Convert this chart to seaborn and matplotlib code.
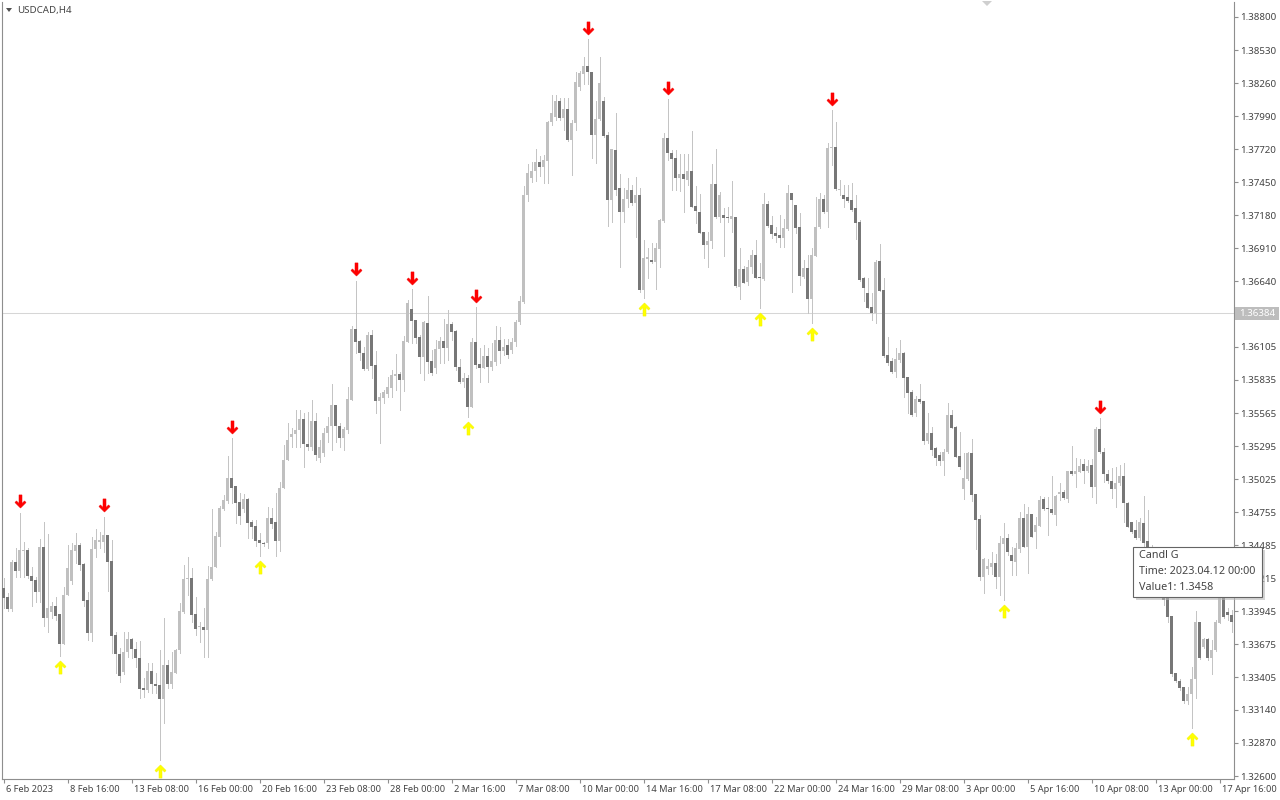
import numpy as np
import pandas as pd
import matplotlib
matplotlib.use("Agg")
import matplotlib.pyplot as plt
import matplotlib.transforms as mtransforms
from matplotlib.path import Path
from matplotlib.patches import Rectangle, Polygon
import seaborn as sns

# ---------------- data (USDCAD H4, 6 Feb 2023 .. 17 Apr 2023) ----------------
open_ = [
    1.34136, 1.34062, 1.33964, 1.34348, 1.34274, 1.34438, 1.34446, 1.34234, 1.34201, 1.34103,
    1.34471, 1.33891, 1.33940, 1.33989, 1.33924, 1.33679, 1.34078, 1.34193, 1.34438, 1.34487,
    1.34332, 1.34038, 1.33768, 1.34455, 1.34512, 1.34512, 1.34569, 1.34356, 1.33752, 1.33596,
    1.33449, 1.33613, 1.33719, 1.33638, 1.33564, 1.33319, 1.33302, 1.33457, 1.33351, 1.33343,
    1.33229, 1.33506, 1.33351, 1.33441, 1.33629, 1.33940, 1.34209, 1.34217, 1.33924, 1.33817,
    1.33817, 1.33793, 1.34209, 1.34307, 1.34553, 1.34781, 1.34847, 1.35034, 1.34969, 1.34838,
    1.34781, 1.34863, 1.34675, 1.34643, 1.34528, 1.34504, 1.34504, 1.34708, 1.34675, 1.34520,
    1.34953, 1.35181, 1.35369, 1.35393, 1.35426, 1.35516, 1.35312, 1.35287, 1.35499, 1.35198,
    1.35238, 1.35401, 1.35459, 1.35630, 1.35459, 1.35361, 1.35426, 1.35671, 1.36251, 1.36153,
    1.36055, 1.35925, 1.36202, 1.35957, 1.35663, 1.35688, 1.35721, 1.35770, 1.35868, 1.35884,
    1.35835, 1.36145, 1.36414, 1.36325, 1.36186, 1.36023, 1.36300, 1.35990, 1.35933, 1.36088,
    1.36153, 1.36096, 1.36292, 1.36235, 1.35941, 1.35819, 1.35851, 1.35614, 1.36145, 1.35966,
    1.35933, 1.36031, 1.35941, 1.35982, 1.36161, 1.36072, 1.36120, 1.36080, 1.36145, 1.36308,
    1.36472, 1.37346, 1.37485, 1.37542, 1.37616, 1.37575, 1.37624, 1.37942, 1.37983, 1.38114,
    1.37975, 1.38048, 1.37795, 1.37934, 1.38228, 1.38334, 1.38399, 1.38350, 1.37836, 1.37967,
    1.38114, 1.37836, 1.37305, 1.37714, 1.37404, 1.37207, 1.37314, 1.37387, 1.37280, 1.37346,
    1.36570, 1.36823, 1.36815, 1.36799, 1.36905, 1.37134, 1.37812, 1.37689, 1.37648, 1.37485,
    1.37518, 1.37469, 1.37542, 1.37256, 1.37207, 1.37044, 1.36938, 1.36970, 1.37436, 1.37166,
    1.37182, 1.37166, 1.37150, 1.37166, 1.36595, 1.36742, 1.36636, 1.36758, 1.36856, 1.36676,
    1.36660, 1.37272, 1.37101, 1.37035, 1.37019, 1.36995, 1.37068, 1.37363, 1.37264, 1.37084,
    1.36676, 1.36750, 1.36497, 1.36848, 1.37084, 1.37314, 1.37207, 1.37728, 1.37738, 1.37387,
    1.37346, 1.37330, 1.37305, 1.37240, 1.37125, 1.36668, 1.36546, 1.36431, 1.36382, 1.36807,
    1.36570, 1.36039, 1.35990, 1.35900, 1.35998, 1.36055, 1.35859, 1.35737, 1.35565, 1.35680,
    1.35663, 1.35336, 1.35401, 1.35279, 1.35222, 1.35173, 1.35247, 1.35548, 1.35450, 1.35214,
    1.34944, 1.35026, 1.35238, 1.34904, 1.34700, 1.34225, 1.34291, 1.34307, 1.34340, 1.34225,
    1.34496, 1.34545, 1.34405, 1.34348, 1.34455, 1.34708, 1.34471, 1.34741, 1.34594, 1.34643,
    1.34863, 1.34790, 1.34781, 1.34732, 1.34904, 1.34920, 1.34863, 1.35091, 1.35067, 1.35083,
    1.35148, 1.35091, 1.35140, 1.34961, 1.35434, 1.35247, 1.35067, 1.35010, 1.34944, 1.34994,
    1.35051, 1.34830, 1.34675, 1.34610, 1.34545, 1.34667, 1.34520, 1.34463, 1.34364, 1.34405,
    1.34160, 1.34062, 1.33907, 1.33441, 1.33376, 1.33327, 1.33213, 1.33270, 1.33392, 1.33858,
    1.33654, 1.33719, 1.33564, 1.33629, 1.33850, 1.34054, 1.33940, 1.33915,
]
high = [
    1.34217, 1.34095, 1.34364, 1.34463, 1.34749, 1.34512, 1.34463, 1.34307, 1.34225, 1.34536,
    1.34675, 1.34577, 1.34022, 1.34062, 1.33924, 1.34144, 1.34487, 1.34504, 1.34585, 1.34504,
    1.34340, 1.34103, 1.34553, 1.34618, 1.34594, 1.34716, 1.34569, 1.34528, 1.33777, 1.33646,
    1.33777, 1.33777, 1.33728, 1.33695, 1.33703, 1.33400, 1.33523, 1.33523, 1.33441, 1.33629,
    1.33891, 1.33547, 1.33613, 1.33638, 1.34013, 1.34323, 1.34389, 1.34299, 1.34062, 1.33858,
    1.33973, 1.34315, 1.34781, 1.34594, 1.34806, 1.34895, 1.35214, 1.35361, 1.34969, 1.34912,
    1.34904, 1.34871, 1.34692, 1.34692, 1.34585, 1.34512, 1.34798, 1.34790, 1.34912, 1.35002,
    1.35303, 1.35483, 1.35442, 1.35589, 1.35589, 1.35565, 1.35573, 1.35671, 1.35565, 1.35344,
    1.35442, 1.35532, 1.35802, 1.35630, 1.35483, 1.35450, 1.35778, 1.36276, 1.36644, 1.36161,
    1.36104, 1.36227, 1.36243, 1.36072, 1.35729, 1.35753, 1.35859, 1.35917, 1.36047, 1.35900,
    1.36194, 1.36488, 1.36578, 1.36325, 1.36202, 1.36316, 1.36521, 1.36080, 1.36161, 1.36186,
    1.36333, 1.36406, 1.36308, 1.36243, 1.36006, 1.35892, 1.35876, 1.36178, 1.36431, 1.36096,
    1.36120, 1.36096, 1.36137, 1.36276, 1.36267, 1.36169, 1.36169, 1.36178, 1.36325, 1.36521,
    1.37420, 1.37600, 1.37616, 1.37722, 1.37665, 1.37673, 1.37950, 1.38162, 1.38162, 1.38138,
    1.38138, 1.38138, 1.37959, 1.38350, 1.38358, 1.38473, 1.38620, 1.38350, 1.38114, 1.38473,
    1.38146, 1.37861, 1.37722, 1.38016, 1.37518, 1.37404, 1.37485, 1.37428, 1.37493, 1.37404,
    1.36978, 1.36913, 1.36954, 1.36954, 1.37150, 1.37852, 1.38130, 1.37714, 1.37714, 1.37681,
    1.37681, 1.37681, 1.37869, 1.37420, 1.37355, 1.37044, 1.37044, 1.37600, 1.37722, 1.37371,
    1.37240, 1.37248, 1.37461, 1.37166, 1.36913, 1.36766, 1.36815, 1.36897, 1.36978, 1.36791,
    1.37363, 1.37297, 1.37174, 1.37084, 1.37182, 1.37150, 1.37428, 1.37363, 1.37264, 1.37199,
    1.36815, 1.36856, 1.36913, 1.37330, 1.37363, 1.37346, 1.37771, 1.38040, 1.37942, 1.37469,
    1.37428, 1.37428, 1.37444, 1.37346, 1.37142, 1.36676, 1.36668, 1.36546, 1.36815, 1.36946,
    1.36668, 1.36186, 1.36015, 1.36096, 1.36161, 1.36063, 1.35859, 1.35753, 1.35704, 1.35802,
    1.35663, 1.35565, 1.35450, 1.35287, 1.35247, 1.35271, 1.35646, 1.35589, 1.35459, 1.35410,
    1.35238, 1.35247, 1.35352, 1.34904, 1.34732, 1.34381, 1.34372, 1.34430, 1.34413, 1.34561,
    1.34667, 1.34577, 1.34471, 1.34504, 1.34757, 1.34822, 1.34798, 1.34741, 1.34716, 1.34888,
    1.34880, 1.34880, 1.35051, 1.34896, 1.34994, 1.34936, 1.35091, 1.35295, 1.35198, 1.35189,
    1.35189, 1.35181, 1.35189, 1.35450, 1.35524, 1.35279, 1.35099, 1.35116, 1.35124, 1.35140,
    1.35157, 1.34838, 1.34675, 1.34692, 1.34708, 1.34888, 1.34773, 1.34487, 1.34446, 1.34430,
    1.34201, 1.34062, 1.33907, 1.33441, 1.33392, 1.33327, 1.33327, 1.33490, 1.33948, 1.33858,
    1.33728, 1.33728, 1.33711, 1.33875, 1.34062, 1.34062, 1.33973, 1.33956,
]
low = [
    1.33973, 1.33948, 1.33948, 1.34225, 1.34225, 1.34225, 1.34217, 1.33989, 1.34022, 1.34022,
    1.33826, 1.33777, 1.33891, 1.33875, 1.33580, 1.33679, 1.34078, 1.34168, 1.34340, 1.34283,
    1.33989, 1.33711, 1.33703, 1.34389, 1.34463, 1.34430, 1.34111, 1.33604, 1.33441, 1.33368,
    1.33433, 1.33572, 1.33564, 1.33490, 1.33237, 1.33245, 1.33286, 1.33278, 1.33278, 1.32730,
    1.33033, 1.33319, 1.33319, 1.33441, 1.33604, 1.33932, 1.34078, 1.33858, 1.33752, 1.33695,
    1.33572, 1.33572, 1.34201, 1.34307, 1.34479, 1.34773, 1.34830, 1.34830, 1.34667, 1.34659,
    1.34757, 1.34545, 1.34545, 1.34479, 1.34397, 1.34479, 1.34463, 1.34626, 1.34397, 1.34438,
    1.34953, 1.35181, 1.35287, 1.35287, 1.35287, 1.35124, 1.35263, 1.35263, 1.35181, 1.35165,
    1.35214, 1.35328, 1.35263, 1.35328, 1.35287, 1.35263, 1.35401, 1.35671, 1.36055, 1.35998,
    1.35917, 1.35917, 1.35851, 1.35565, 1.35320, 1.35646, 1.35696, 1.35696, 1.35753, 1.35589,
    1.35745, 1.36145, 1.36137, 1.36137, 1.35892, 1.35835, 1.35892, 1.35876, 1.35892, 1.35974,
    1.35974, 1.35998, 1.36161, 1.35917, 1.35810, 1.35778, 1.35532, 1.35614, 1.35933, 1.35819,
    1.35933, 1.35819, 1.35917, 1.35957, 1.35974, 1.36039, 1.36015, 1.36055, 1.36112, 1.36292,
    1.36463, 1.37297, 1.37453, 1.37461, 1.37502, 1.37444, 1.37444, 1.37918, 1.37959, 1.37959,
    1.37877, 1.37787, 1.37510, 1.37877, 1.38203, 1.38252, 1.38252, 1.37649, 1.37608, 1.37959,
    1.37820, 1.37093, 1.37125, 1.37346, 1.36758, 1.37125, 1.37248, 1.37264, 1.37003, 1.36554,
    1.36505, 1.36668, 1.36791, 1.36578, 1.36758, 1.37125, 1.37632, 1.37387, 1.37387, 1.37379,
    1.37207, 1.37428, 1.37248, 1.37117, 1.37035, 1.36832, 1.36758, 1.36913, 1.37158, 1.37125,
    1.36848, 1.37125, 1.37044, 1.36595, 1.36497, 1.36627, 1.36611, 1.36709, 1.36668, 1.36423,
    1.36652, 1.37084, 1.36995, 1.36962, 1.36921, 1.36921, 1.37060, 1.36554, 1.37035, 1.36611,
    1.36668, 1.36382, 1.36300, 1.36848, 1.37076, 1.37199, 1.37084, 1.37591, 1.37387, 1.37346,
    1.37248, 1.37289, 1.37215, 1.36986, 1.36644, 1.36480, 1.36423, 1.36325, 1.36300, 1.36562,
    1.36023, 1.35957, 1.35892, 1.35859, 1.35982, 1.35696, 1.35565, 1.35540, 1.35540, 1.35646,
    1.35312, 1.35320, 1.35222, 1.35140, 1.35140, 1.35059, 1.35238, 1.35442, 1.35206, 1.35108,
    1.34863, 1.35018, 1.34847, 1.34455, 1.34201, 1.34095, 1.34250, 1.34250, 1.34136, 1.34078,
    1.34038, 1.34405, 1.34242, 1.34242, 1.34430, 1.34471, 1.34258, 1.34553, 1.34463, 1.34643,
    1.34773, 1.34569, 1.34741, 1.34651, 1.34855, 1.34863, 1.34839, 1.35059, 1.34961, 1.35083,
    1.34994, 1.35083, 1.34879, 1.34830, 1.35238, 1.35002, 1.34994, 1.34871, 1.34798, 1.34977,
    1.34675, 1.34634, 1.34585, 1.34536, 1.34528, 1.34463, 1.34446, 1.34323, 1.34283, 1.34119,
    1.33997, 1.33858, 1.33417, 1.33368, 1.33302, 1.33196, 1.33188, 1.32992, 1.33237, 1.33555,
    1.33646, 1.33547, 1.33433, 1.33621, 1.33850, 1.33891, 1.33875, 1.33777,
]
close = [
    1.34054, 1.33964, 1.34348, 1.34274, 1.34446, 1.34446, 1.34234, 1.34193, 1.34103, 1.34471,
    1.33891, 1.33973, 1.33989, 1.33907, 1.33679, 1.34078, 1.34299, 1.34446, 1.34487, 1.34323,
    1.34030, 1.33768, 1.34455, 1.34528, 1.34528, 1.34569, 1.34348, 1.33744, 1.33596, 1.33417,
    1.33613, 1.33719, 1.33638, 1.33564, 1.33310, 1.33302, 1.33457, 1.33351, 1.33335, 1.33229,
    1.33506, 1.33351, 1.33449, 1.33629, 1.33948, 1.34209, 1.34217, 1.33915, 1.33801, 1.33822,
    1.33793, 1.34209, 1.34307, 1.34561, 1.34790, 1.34855, 1.35034, 1.34953, 1.34830, 1.34724,
    1.34863, 1.34667, 1.34634, 1.34520, 1.34504, 1.34496, 1.34708, 1.34659, 1.34520, 1.34953,
    1.35181, 1.35344, 1.35393, 1.35426, 1.35516, 1.35312, 1.35287, 1.35499, 1.35222, 1.35287,
    1.35401, 1.35459, 1.35630, 1.35459, 1.35361, 1.35434, 1.35680, 1.36251, 1.36145, 1.36055,
    1.35925, 1.36202, 1.35949, 1.35663, 1.35696, 1.35737, 1.35778, 1.35876, 1.35884, 1.35835,
    1.36153, 1.36463, 1.36316, 1.36178, 1.36023, 1.36308, 1.35982, 1.35892, 1.36088, 1.36153,
    1.36096, 1.36292, 1.36227, 1.35941, 1.35819, 1.35851, 1.35614, 1.36145, 1.35957, 1.35933,
    1.36031, 1.35941, 1.35990, 1.36161, 1.36072, 1.36104, 1.36039, 1.36145, 1.36308, 1.36480,
    1.37346, 1.37526, 1.37542, 1.37616, 1.37575, 1.37632, 1.37942, 1.38016, 1.38114, 1.37975,
    1.38048, 1.37795, 1.37934, 1.38269, 1.38342, 1.38399, 1.38350, 1.37836, 1.37967, 1.38261,
    1.37828, 1.37305, 1.37722, 1.37387, 1.37207, 1.37314, 1.37387, 1.37280, 1.37346, 1.36570,
    1.36832, 1.36840, 1.36799, 1.36913, 1.37142, 1.37812, 1.37689, 1.37640, 1.37485, 1.37518,
    1.37477, 1.37542, 1.37248, 1.37215, 1.37035, 1.36938, 1.36970, 1.37436, 1.37166, 1.37346,
    1.37158, 1.37158, 1.37174, 1.36603, 1.36742, 1.36627, 1.36758, 1.36856, 1.36668, 1.36668,
    1.37272, 1.37093, 1.37027, 1.37011, 1.36995, 1.37076, 1.37363, 1.37305, 1.37076, 1.36685,
    1.36750, 1.36497, 1.36856, 1.37084, 1.37314, 1.37207, 1.37730, 1.37741, 1.37395, 1.37395,
    1.37314, 1.37297, 1.37223, 1.37117, 1.36652, 1.36586, 1.36423, 1.36382, 1.36799, 1.36562,
    1.36031, 1.35974, 1.35900, 1.36006, 1.36055, 1.35851, 1.35729, 1.35548, 1.35680, 1.35655,
    1.35336, 1.35401, 1.35263, 1.35198, 1.35173, 1.35247, 1.35548, 1.35442, 1.35206, 1.35124,
    1.35034, 1.35238, 1.34895, 1.34692, 1.34225, 1.34372, 1.34315, 1.34340, 1.34225, 1.34504,
    1.34545, 1.34430, 1.34356, 1.34463, 1.34708, 1.34471, 1.34741, 1.34553, 1.34651, 1.34855,
    1.34781, 1.34781, 1.34749, 1.34888, 1.34920, 1.34871, 1.35091, 1.35067, 1.35091, 1.35132,
    1.35091, 1.35132, 1.34961, 1.35434, 1.35247, 1.35067, 1.35010, 1.34944, 1.34994, 1.35051,
    1.34830, 1.34634, 1.34594, 1.34545, 1.34675, 1.34504, 1.34463, 1.34364, 1.34405, 1.34160,
    1.34038, 1.33899, 1.33433, 1.33376, 1.33319, 1.33213, 1.33270, 1.33392, 1.33858, 1.33564,
    1.33719, 1.33564, 1.33629, 1.33858, 1.34054, 1.33899, 1.33915, 1.33858,
]

sell_signal_bars = [4, 25, 57, 88, 102, 118, 146, 166, 207, 274]
buy_signal_bars = [14, 39, 64, 116, 160, 189, 202, 250, 297]

price_ticks = [1.38800, 1.38530, 1.38260, 1.37990, 1.37720, 1.37450, 1.37180, 1.36910,
               1.36640, 1.36105, 1.35835, 1.35565, 1.35295, 1.35025, 1.34755, 1.34485,
               1.34215, 1.33945, 1.33675, 1.33405, 1.33140, 1.32870, 1.32600]
date_tick_labels = ["6 Feb 2023", "8 Feb 16:00", "13 Feb 08:00", "16 Feb 00:00",
                    "20 Feb 16:00", "23 Feb 08:00", "28 Feb 00:00", "2 Mar 16:00",
                    "7 Mar 08:00", "10 Mar 00:00", "14 Mar 16:00", "17 Mar 08:00",
                    "22 Mar 00:00", "24 Mar 16:00", "29 Mar 08:00", "3 Apr 00:00",
                    "5 Apr 16:00", "10 Apr 08:00", "13 Apr 00:00", "17 Apr 16:00"]
current_price = 1.36384
symbol_title = "USDCAD,H4"
tooltip_lines = ["Candl G", "Time: 2023.04.12 00:00", "Value1: 1.3458"]

# ---------------- styling ----------------
BULL = "#c0c0c0"
BEAR = "#777777"
WICK = "#c4c4c4"
AXIS = "#8e8e8e"
TEXT = "#444444"

df = pd.DataFrame({"open": open_, "high": high, "low": low, "close": close})
df["bar"] = np.arange(len(df))
df["bull"] = df["close"] >= df["open"]
df["body_low"] = df[["open", "close"]].min(axis=1)
df["body_h"] = (df["close"] - df["open"]).abs()

sns.set_theme(style="white")
plt.rcParams["font.family"] = ["Noto Sans", "DejaVu Sans"]

W, H = 1280, 800
fig = plt.figure(figsize=(W / 100, H / 100), dpi=100, facecolor="white")
ax_l, ax_r, ax_t, ax_b = 2, 1234, 2, 779
ax = fig.add_axes([ax_l / W, 1 - ax_b / H, (ax_r - ax_l) / W, (ax_b - ax_t) / H])
ax.set_facecolor("white")

px_per_price = 12242.0
ymax = 1.38800 + (17 - ax_t) / px_per_price
ymin = 1.38800 - (ax_b - 17) / px_per_price
ax.set_ylim(ymin, ymax)
ax.set_xlim(-0.375, len(df) - 0.375)

# current price line
ax.axhline(current_price, color="#d6d6d6", lw=0.75, zorder=1)

# wicks & bodies
ax.vlines(df["bar"], df["low"], df["high"], colors=WICK, linewidth=0.5,
          antialiased=False, zorder=2)
min_h = 1.0 / px_per_price
ax.bar(df["bar"], np.maximum(df["body_h"], min_h), bottom=df["body_low"], width=0.75,
       color=np.where(df["bull"], BULL, BEAR), linewidth=0, antialiased=False, zorder=3)

# signal arrows
dv = [(0, -6.5), (5.5, -1.0), (4.0, 0.6), (1.5, -1.9), (1.5, 6.5), (-1.5, 6.5),
      (-1.5, -1.9), (-4.0, 0.6), (-5.5, -1.0), (0, -6.5)]
codes = [Path.MOVETO] + [Path.LINETO] * 8 + [Path.CLOSEPOLY]
down_arrow = Path(dv, codes)
up_arrow = Path([(x, -y) for x, y in dv], codes)

sell = df.loc[sell_signal_bars]
buy = df.loc[buy_signal_bars]
sns.scatterplot(x=sell["bar"].values, y=(sell["high"] + 11.5 / px_per_price).values,
                marker=down_arrow, s=90, color="#ff0000", edgecolor="#f00000",
                linewidth=0.3, ax=ax, zorder=6, legend=False)
sns.scatterplot(x=buy["bar"].values, y=(buy["low"] - 11.0 / px_per_price).values,
                marker=up_arrow, s=90, color="#ffff00", edgecolor="#f0f000",
                linewidth=0.3, ax=ax, zorder=6, legend=False)

# axes / ticks
for side in ["left", "right", "bottom"]:
    ax.spines[side].set_visible(True)
    ax.spines[side].set_color(AXIS)
    ax.spines[side].set_linewidth(0.8)
ax.spines["top"].set_visible(False)

ax.yaxis.tick_right()
ax.set_yticks(price_ticks)
ax.set_yticklabels([f"{p:.5f}" for p in price_ticks])
ax.tick_params(axis="y", which="both", right=True, left=False, length=3, width=0.8,
               color=AXIS, pad=1.5, labelsize=7, labelcolor=TEXT)

ax.set_xticks(df["bar"].values[::16][:len(date_tick_labels)])
ax.set_xticklabels(date_tick_labels, ha="left")
ax.tick_params(axis="x", which="both", bottom=True, length=3, width=0.8, color=AXIS,
               pad=1.5, labelsize=6.7, labelcolor=TEXT)
shift = mtransforms.ScaledTranslation(2 / 100, 0, fig.dpi_scale_trans)
for lab in ax.get_xticklabels():
    lab.set_transform(lab.get_transform() + shift)
ax.grid(False)


def fx(px):
    return px / W


def fy(py):
    return 1 - py / H


# current price label on the price scale
fig.patches.append(Rectangle((fx(1235), fy(319.5)), fx(44), 12.5 / H,
                             transform=fig.transFigure, facecolor="#bdbdbd",
                             edgecolor="none", zorder=5))
fig.text(fx(1239), fy(313.3), f"{current_price:.5f}", color="white", fontsize=7,
         va="center", ha="left", zorder=6)

# title
fig.patches.append(Polygon([(fx(6), fy(8)), (fx(12), fy(8)), (fx(9), fy(12))],
                           closed=True, transform=fig.transFigure,
                           facecolor="#505050", edgecolor="none", zorder=5))
fig.text(fx(17), fy(10), symbol_title, color=TEXT, fontsize=7, va="center", ha="left")

# chart shift marker
fig.patches.append(Polygon([(fx(982), fy(1)), (fx(992), fy(1)), (fx(987), fy(6))],
                           closed=True, transform=fig.transFigure,
                           facecolor="#cfcfcf", edgecolor="none", zorder=5))

# tooltip
fig.patches.append(Rectangle((fx(1136), fy(600)), fx(129), 50 / H,
                             transform=fig.transFigure, facecolor="#b8b8b8",
                             edgecolor="none", alpha=0.6, zorder=8))
fig.patches.append(Rectangle((fx(1133), fy(597)), fx(129), 50 / H,
                             transform=fig.transFigure, facecolor="white",
                             edgecolor="#646464", linewidth=0.8, zorder=9))
for i, line in enumerate(tooltip_lines):
    fig.text(fx(1139), fy(556 + i * 15.5), line, color=TEXT, fontsize=7.8,
             va="center", ha="left", zorder=10)

fig.savefig("out.png", dpi=100, facecolor="white")
